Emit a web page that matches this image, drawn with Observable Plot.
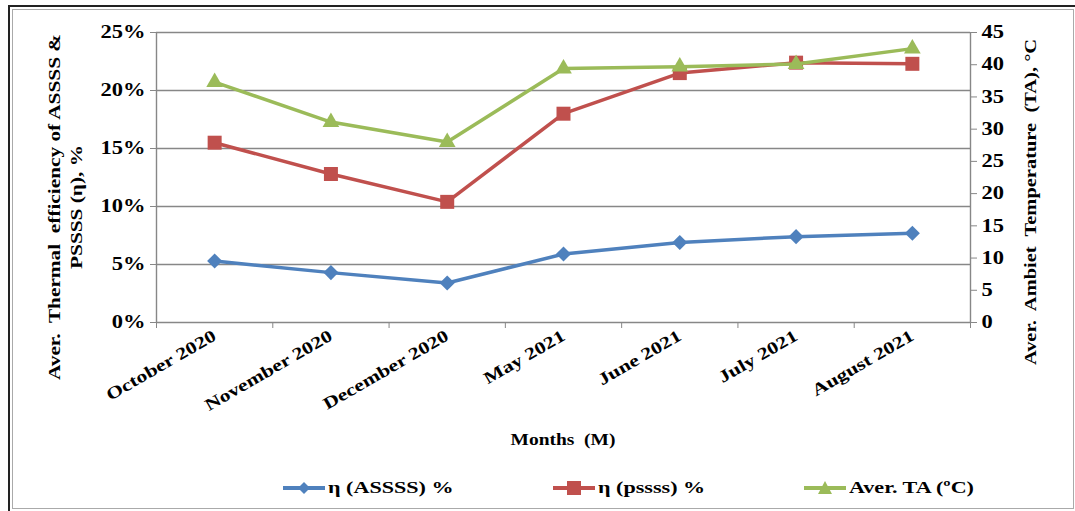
<!DOCTYPE html>
<html><head><meta charset="utf-8">
<script src="https://cdn.jsdelivr.net/npm/d3@7"></script>
<script src="https://cdn.jsdelivr.net/npm/@observablehq/plot@0.6"></script>
<style>
body{margin:0;background:#fff;font-family:"Liberation Serif","Times New Roman",serif;font-weight:bold;color:#000;}
#wrap{position:relative;width:1075px;height:511px;overflow:hidden;background:#fff;}
#outer{position:absolute;left:8px;top:5px;width:1075px;height:520px;border-top:2px solid #222;border-left:2px solid #222;}
#inner{position:absolute;left:12px;top:9px;width:1060px;height:498px;border:1px solid #aaa;}
#chart{position:absolute;left:0;top:0;}
.vt{position:absolute;white-space:nowrap;font-size:16.5px;line-height:22px;text-align:center;}
#xt{position:absolute;left:563px;top:440px;transform:translate(-50%,-50%) scaleX(1.18);font-size:16.5px;white-space:nowrap;}
.lg{position:absolute;top:478px;display:flex;align-items:center;font-size:17px;white-space:nowrap;}
.lg svg{margin-right:3px;}
.lg span{display:inline-block;transform-origin:left center;transform:scaleX(1.3);}
</style></head><body>
<div id="wrap">
  <div id="outer"></div>
  <div id="inner"></div>
  <div id="chart"></div>
  <div class="vt" style="left:66px;top:207px;transform:translate(-50%,-50%) rotate(-90deg) scaleX(1.29);">Aver.&nbsp; Thermal&nbsp; efficiency of ASSSS &amp;<br>PSSSS (η), %</div>
  <div class="vt" style="left:1031px;top:202px;transform:translate(-50%,-50%) rotate(-90deg) scaleX(1.24);">Aver.&nbsp; Ambiet&nbsp; Temperature&nbsp; (TA), °C</div>
  <div id="xt">Months&nbsp; (M)</div>
  <div id="legend"></div>
</div>
<script>
const months = ["October 2020","November 2020","December 2020","May 2021","June 2021","July 2021","August 2021"];
const etaASSSS = [5.3, 4.3, 3.4, 5.9, 6.9, 7.4, 7.7];
const etaPSSSS = [15.5, 12.8, 10.4, 18.0, 21.5, 22.4, 22.3];
const tempTA = [37.3, 31.1, 28.0, 39.4, 39.7, 40.1, 42.5];
const leftTicks = [0, 5, 10, 15, 20, 25];
const rightTicks = [0, 5, 10, 15, 20, 25, 30, 35, 40, 45];
const seriesNames = ["η (ASSSS) %", "η (pssss) %", "Aver. TA (ºC)"];
const colors = ["#4F81BD", "#C0504D", "#9BBB59"];

const k = 25 / 45; // right axis (°C) to left axis (%) mapping
const idx = months.map((_, i) => i);
const blue = idx.map(i => ({i, v: etaASSSS[i]}));
const red = idx.map(i => ({i, v: etaPSSSS[i]}));
const green = idx.map(i => ({i, v: tempTA[i] * k}));
const gridColor = "#878787";

const plot = Plot.plot({
  width: 1075, height: 460,
  marginLeft: 156, marginRight: 105, marginTop: 32, marginBottom: 138,
  style: {fontFamily: "'Liberation Serif', 'Times New Roman', serif", fontWeight: "bold", fontSize: "18px", color: "#000", background: "transparent", overflow: "visible"},
  x: {domain: [-0.5, 6.5]},
  y: {domain: [0, 25]},
  marks: [
    Plot.ruleY(leftTicks, {stroke: gridColor, strokeWidth: 1.4}),
    Plot.ruleX([-0.5, 6.5], {stroke: gridColor, strokeWidth: 1.4}),
    Plot.axisY(leftTicks, {anchor: "left", tickFormat: d => d + "%", tickSize: 6, tickPadding: 5, stroke: gridColor, fill: "#000", fontSize: 18, label: null}),
    Plot.axisY(rightTicks.map(t => t * k), {anchor: "right", tickFormat: d => String(Math.round(d / k)), tickSize: 6, tickPadding: 5, stroke: gridColor, fill: "#000", fontSize: 18, label: null}),
    Plot.axisX(d3.range(-0.5, 7, 1), {tickSize: 6, tickFormat: () => "", stroke: gridColor, label: null}),
    Plot.axisX(idx, {tickSize: 0, tickPadding: 12, tickFormat: i => months[i], tickRotate: -30, fill: "#000", fontSize: 17, label: null}),
    Plot.line(blue, {x: "i", y: "v", stroke: colors[0], strokeWidth: 3.5}),
    Plot.dot(blue, {x: "i", y: "v", symbol: "diamond2", r: 6.8, fill: colors[0], stroke: "none"}),
    Plot.line(red, {x: "i", y: "v", stroke: colors[1], strokeWidth: 3.5}),
    Plot.dot(red, {x: "i", y: "v", symbol: "square", r: 7.9, fill: colors[1], stroke: "none"}),
    Plot.line(green, {x: "i", y: "v", stroke: colors[2], strokeWidth: 3.5}),
    Plot.dot(green, {x: "i", y: "v", symbol: "triangle", r: 6.2, fill: colors[2], stroke: "none"})
  ]
});
document.getElementById("chart").appendChild(plot);

// widen tick label glyphs horizontally (reference text is stretched)
function stretch(t, s) {
  let tr = t.getAttribute("transform") || "";
  const xa = t.getAttribute("x");
  if (xa !== null && xa !== "" && !isNaN(+xa)) { tr += ` translate(${+xa},0)`; t.removeAttribute("x"); }
  const ya = t.getAttribute("y");
  if (ya !== null && ya !== "" && !isNaN(+ya)) { tr += ` translate(0,${+ya})`; t.removeAttribute("y"); }
  t.setAttribute("transform", `${tr} scale(${s},1)`);
}
plot.querySelectorAll('g[aria-label="y-axis tick label"] text').forEach(t => stretch(t, 1.25));
plot.querySelectorAll('g[aria-label="x-axis tick label"] text').forEach(t => stretch(t, 1.27));

// legend
const legendX = [283, 553, 804];
const syms = [
  '<path d="M21,3 L27,9 L21,15 L15,9 Z"/>',
  '<rect x="14" y="2" width="14" height="14"/>',
  '<path d="M21,2 L28,15 L14,15 Z"/>'
];
const lg = document.getElementById("legend");
seriesNames.forEach((name, j) => {
  const d = document.createElement("div");
  d.className = "lg";
  d.style.left = legendX[j] + "px";
  d.innerHTML = `<svg width="42" height="18"><line x1="0" x2="42" y1="9" y2="9" stroke="${colors[j]}" stroke-width="4"/><g fill="${colors[j]}">${syms[j]}</g></svg><span>${name}</span>`;
  lg.appendChild(d);
});
</script>
</body></html>
